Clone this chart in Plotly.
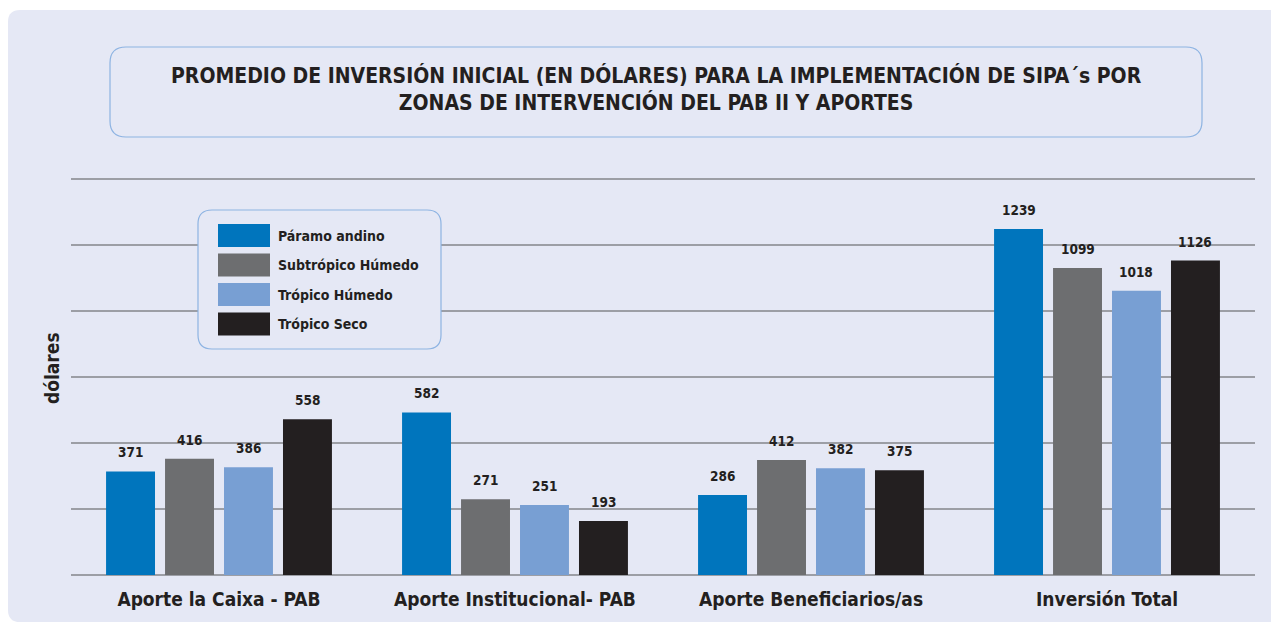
import plotly.graph_objects as go

categories = ["Aporte la Caixa - PAB", "Aporte Institucional- PAB", "Aporte Beneficiarios/as", "Inversión Total"]
series_names = ["Páramo andino", "Subtrópico Húmedo", "Trópico Húmedo", "Trópico Seco"]
paramo_andino = [371, 582, 286, 1239]
subtropico_humedo = [416, 271, 412, 1099]
tropico_humedo = [386, 251, 382, 1018]
tropico_seco = [558, 193, 375, 1126]
series_values = [paramo_andino, subtropico_humedo, tropico_humedo, tropico_seco]
colors = ["#0075bd", "#6d6e70", "#789fd3", "#231f20"]

title_lines = ["PROMEDIO DE INVERSIÓN INICIAL (EN DÓLARES) PARA LA IMPLEMENTACIÓN DE SIPA´s POR",
               "ZONAS DE INTERVENCIÓN DEL PAB II Y APORTES"]
y_title = "dólares"

FONT = "DejaVu Sans Condensed, Liberation Sans Narrow, sans-serif"
TXT = "#231f20"
PANEL = "#e5e8f5"
BORDER = "#8db3e2"
GRID = "#9c9ea5"

W_PX, H_PX = 1279, 624
OFF = 8  # page body margin
ymax = 1450
step = 236.5
px_per_unit = 66 / step
PH = round(ymax * px_per_unit)
L = 71 - OFF
B = H_PX - (575 - OFF)
T = H_PX - B - PH
R = W_PX - (1255 - OFF)
PW = W_PX - L - R

def px(x):
    return (x - OFF - L) / PW

def py(y):
    return (H_PX - B - (y - OFF)) / PH

def rounded(x0, y0, x1, y1, r):
    pts = [
        ("M", [(x0 + r, y0)]),
        ("L", [(x1 - r, y0)]),
        ("Q", [(x1, y0), (x1, y0 + r)]),
        ("L", [(x1, y1 - r)]),
        ("Q", [(x1, y1), (x1 - r, y1)]),
        ("L", [(x0 + r, y1)]),
        ("Q", [(x0, y1), (x0, y1 - r)]),
        ("L", [(x0, y0 + r)]),
        ("Q", [(x0, y0), (x0 + r, y0)]),
    ]
    s = ""
    for cmd, ps in pts:
        s += cmd + " " + " ".join(f"{px(a):.5f},{py(b):.5f}" for a, b in ps) + " "
    return s + "Z"

bargap = 0.203
bargroupgap = 0.17
n = len(series_names)
slot = (1 - bargap) / n

fig = go.Figure()
for name, vals, col in zip(series_names, series_values, colors):
    fig.add_trace(go.Bar(x=categories, y=vals, name=name, marker=dict(color=col, line=dict(width=0)),
                         showlegend=False))

annotations = []
for j, vals in enumerate(series_values):
    for i, v in enumerate(vals):
        annotations.append(dict(x=i + (j - (n - 1) / 2) * slot, y=v, xref="x", yref="y",
                                text=str(v), showarrow=False, yanchor="bottom", yshift=9,
                                font=dict(family=FONT, size=13.5, color=TXT, weight="bold")))

shapes = [
    dict(type="path", path=rounded(8, 10, 1300, 622, 12), xref="paper", yref="paper",
         fillcolor=PANEL, line=dict(width=0), layer="below"),
    dict(type="path", path=rounded(110, 47, 1202, 137, 16), xref="paper", yref="paper",
         fillcolor=PANEL, line=dict(color=BORDER, width=1.2), layer="above"),
    dict(type="path", path=rounded(198, 210, 441, 349, 14), xref="paper", yref="paper",
         fillcolor=PANEL, line=dict(color=BORDER, width=1.2), layer="above"),
]

row_y = [235.5, 265, 294.5, 324]
for k, (name, col) in enumerate(zip(series_names, colors)):
    yc = row_y[k]
    shapes.append(dict(type="rect", xref="paper", yref="paper", x0=px(218), x1=px(270),
                       y0=py(yc + 11.5), y1=py(yc - 11.5), fillcolor=col, line=dict(width=0),
                       layer="above"))
    annotations.append(dict(x=px(276), y=py(yc), xref="paper", yref="paper", text=name,
                            showarrow=False, xanchor="left", yanchor="middle",
                            font=dict(family=FONT, size=14, color=TXT, weight="bold")))

annotations.append(dict(x=px(656), y=py(89), xref="paper", yref="paper",
                        text="<br>".join(title_lines), showarrow=False, xanchor="center",
                        yanchor="middle", align="center",
                        font=dict(family=FONT, size=21, color=TXT, weight="bold")))
annotations.append(dict(x=px(52), y=py(368), xref="paper", yref="paper", text=y_title,
                        textangle=-90, showarrow=False, xanchor="center", yanchor="middle",
                        font=dict(family=FONT, size=19, color=TXT, weight="bold")))

fig.update_layout(
    width=W_PX, height=H_PX,
    margin=dict(l=L, r=R, t=T, b=B, pad=0),
    paper_bgcolor="white", plot_bgcolor="rgba(0,0,0,0)",
    barmode="group", bargap=bargap, bargroupgap=bargroupgap,
    shapes=shapes, annotations=annotations, showlegend=False,
    xaxis=dict(showgrid=False, showline=False, ticks="", zeroline=False, automargin=False,
               tickangle=0,
               tickfont=dict(family=FONT, size=19, color=TXT, weight="bold"),
               ticklabelstandoff=11),
    yaxis=dict(range=[0, ymax], tickvals=[step * k for k in range(7)], showticklabels=False,
               automargin=False,
               showgrid=True, gridcolor=GRID, gridwidth=1.5, zeroline=True,
               zerolinecolor=GRID, zerolinewidth=1.5, showline=False, ticks=""),
)

fig.write_html("out.html")
